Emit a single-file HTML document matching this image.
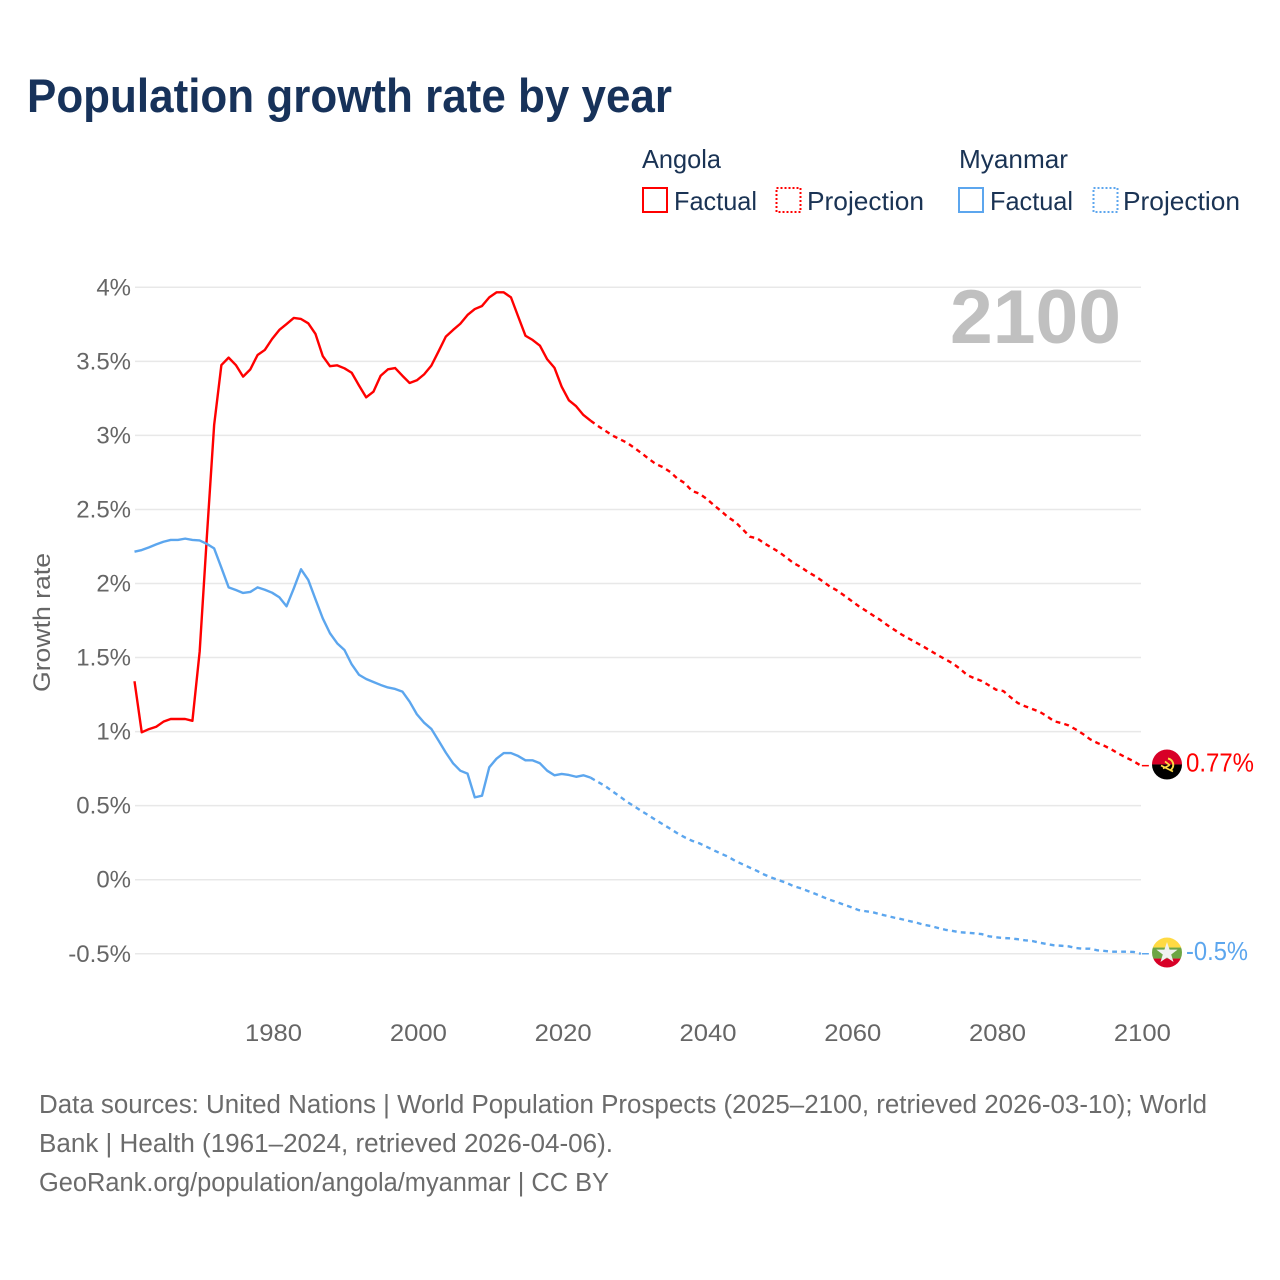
<!DOCTYPE html>
<html lang="en">
<head>
<meta charset="utf-8">
<title>Population growth rate by year</title>
<style>
html,body{margin:0;padding:0;background:#fff;}
svg{display:block;font-family:"Liberation Sans",sans-serif;}
.legend-text{font-size:26px;fill:#1a3354;}
.foot{font-size:25.5px;fill:#6b6b6b;}
.tick{font-size:24px;fill:#666;}
</style>
</head>
<body>
<svg id="chart" width="1280" height="1280" viewBox="0 0 1280 1280" xmlns="http://www.w3.org/2000/svg">
  <rect x="0" y="0" width="1280" height="1280" fill="#fff"/>
  <text x="27" y="112" font-size="47" font-weight="700" fill="#17325a" textLength="645" lengthAdjust="spacingAndGlyphs">Population growth rate by year</text>

  <g>
    <text class="legend-text" x="642" y="168" textLength="79" lengthAdjust="spacingAndGlyphs">Angola</text>
    <text class="legend-text" x="959" y="168" textLength="109" lengthAdjust="spacingAndGlyphs">Myanmar</text>
    <g>
      <rect x="643" y="188" width="24" height="24" fill="none" stroke="#ff0000" stroke-width="2"/>
      <text class="legend-text" x="674" y="210" textLength="83" lengthAdjust="spacingAndGlyphs">Factual</text>
    </g>
    <g>
      <rect x="776.5" y="188" width="24" height="24" fill="none" stroke="#ff0000" stroke-width="2" stroke-dasharray="2,2"/>
      <text class="legend-text" x="807" y="210" textLength="117" lengthAdjust="spacingAndGlyphs">Projection</text>
    </g>
    <g>
      <rect x="959" y="188" width="24" height="24" fill="none" stroke="#5ca6ee" stroke-width="2"/>
      <text class="legend-text" x="990" y="210" textLength="83" lengthAdjust="spacingAndGlyphs">Factual</text>
    </g>
    <g>
      <rect x="1093.5" y="188" width="24" height="24" fill="none" stroke="#5ca6ee" stroke-width="2" stroke-dasharray="2,2"/>
      <text class="legend-text" x="1123" y="210" textLength="117" lengthAdjust="spacingAndGlyphs">Projection</text>
    </g>
  </g>

  <g id="grid"></g>
  <g id="yticks"></g>
  <g id="xticks"></g>
  <text transform="translate(50,692) rotate(-90)" font-size="24" fill="#666" textLength="139" lengthAdjust="spacingAndGlyphs">Growth rate</text>
  <text x="1121" y="343" text-anchor="end" font-size="76" font-weight="700" fill="#c0c0c0" textLength="171" lengthAdjust="spacingAndGlyphs">2100</text>

  <g id="series"></g>

  <defs>
    <clipPath id="flag-clip"><circle cx="0" cy="0" r="15"/></clipPath>
  </defs>
  <g id="flag-angola">
    <g clip-path="url(#flag-clip)">
      <rect x="-15" y="-15" width="30" height="15" fill="#d80027"/>
      <rect x="-15" y="0" width="30" height="15" fill="#000"/>
      <path d="M1 -6 A6.5 6.5 0 0 1 3 6" fill="none" stroke="#ffda44" stroke-width="2"/>
      <path d="M-6 1 L6 7 M-2 -3 L3 1 M-4 4 L2 1" fill="none" stroke="#ffda44" stroke-width="1.7"/>
    </g>
  </g>
  <g id="flag-myanmar">
    <g clip-path="url(#flag-clip)">
      <rect x="-15" y="-15" width="30" height="10" fill="#ffda44"/>
      <rect x="-15" y="-5" width="30" height="11" fill="#6da544"/>
      <rect x="-15" y="6" width="30" height="10" fill="#d80027"/>
      <polygon points="0,-10.5 2.6,-2.9 10.6,-2.9 4.2,1.9 6.5,9.5 0,5 -6.5,9.5 -4.2,1.9 -10.6,-2.9 -2.6,-2.9" fill="#f0f0f0"/>
    </g>
  </g>
  <text id="label-angola" x="1186" font-size="26" fill="#ff0000" textLength="68" lengthAdjust="spacingAndGlyphs"></text>
  <text id="label-myanmar" x="1186" font-size="26" fill="#5ca6ee" textLength="62" lengthAdjust="spacingAndGlyphs"></text>

  <g>
    <text class="foot" x="39" y="1113" textLength="1168" lengthAdjust="spacingAndGlyphs">Data sources: United Nations | World Population Prospects (2025–2100, retrieved 2026-03-10); World</text>
    <text class="foot" x="39" y="1152" textLength="574" lengthAdjust="spacingAndGlyphs">Bank | Health (1961–2024, retrieved 2026-04-06).</text>
    <text class="foot" x="39" y="1191" textLength="570" lengthAdjust="spacingAndGlyphs">GeoRank.org/population/angola/myanmar | CC BY</text>
  </g>
</svg>
<script>
const factualStartYear = 1961;
const projectionStartYear = 2025;
const yTickValues = [-0.5, 0, 0.5, 1, 1.5, 2, 2.5, 3, 3.5, 4];
const yTickLabels = ['-0.5%', '0%', '0.5%', '1%', '1.5%', '2%', '2.5%', '3%', '3.5%', '4%'];
const xTickYears = [1980, 2000, 2020, 2040, 2060, 2080, 2100];

const angolaFactual = [
  1.34, 0.995, 1.017, 1.033, 1.067, 1.085, 1.085, 1.085, 1.073, 1.54,
  2.32, 3.07, 3.475, 3.525, 3.475, 3.397, 3.446, 3.543, 3.577, 3.651,
  3.712, 3.752, 3.793, 3.786, 3.757, 3.685, 3.536, 3.467, 3.473, 3.453,
  3.423, 3.338, 3.257, 3.295, 3.403, 3.446, 3.455, 3.403, 3.354, 3.372,
  3.412, 3.471, 3.568, 3.667, 3.712, 3.754, 3.813, 3.853, 3.874, 3.932,
  3.966, 3.966, 3.932, 3.802, 3.673, 3.644, 3.606, 3.514, 3.457, 3.329,
  3.237, 3.197, 3.138, 3.099
];
const angolaProjection = [
  3.064, 3.032, 3.0, 2.975, 2.951,
  2.917, 2.881, 2.843, 2.807, 2.785, 2.753, 2.708, 2.678, 2.625, 2.607,
  2.573, 2.53, 2.49, 2.447, 2.415, 2.366, 2.316, 2.305, 2.271, 2.242,
  2.213, 2.177, 2.139, 2.112, 2.078, 2.05, 2.017, 1.981, 1.954, 1.92,
  1.884, 1.848, 1.817, 1.785, 1.754, 1.718, 1.686, 1.654, 1.627, 1.6,
  1.573, 1.544, 1.515, 1.488, 1.461, 1.425, 1.382, 1.36, 1.342, 1.313,
  1.283, 1.274, 1.232, 1.193, 1.171, 1.153, 1.134, 1.105, 1.07, 1.058,
  1.042, 1.015, 0.984, 0.948, 0.923, 0.903, 0.878, 0.849, 0.824, 0.8,
  0.77
];
const myanmarFactual = [
  2.215, 2.226, 2.244, 2.264, 2.282, 2.294, 2.294, 2.303, 2.294, 2.291,
  2.267, 2.237, 2.107, 1.974, 1.956, 1.936, 1.943, 1.974, 1.958, 1.938,
  1.907, 1.846, 1.967, 2.096, 2.024, 1.893, 1.765, 1.664, 1.596, 1.551,
  1.454, 1.384, 1.355, 1.335, 1.315, 1.298, 1.288, 1.27, 1.202, 1.117,
  1.06, 1.018, 0.939, 0.858, 0.786, 0.736, 0.716, 0.556, 0.567, 0.759,
  0.817, 0.855, 0.855, 0.835, 0.806, 0.806, 0.786, 0.736, 0.705, 0.714,
  0.707, 0.695, 0.705, 0.689
];
const myanmarProjection = [
  0.66, 0.633, 0.597, 0.563, 0.527,
  0.496, 0.464, 0.435, 0.403, 0.374, 0.344, 0.313, 0.286, 0.263, 0.246,
  0.223, 0.199, 0.176, 0.155, 0.126, 0.104, 0.081, 0.059, 0.034, 0.014,
  -0.004, -0.02, -0.043, -0.058, -0.076, -0.095, -0.115, -0.135, -0.151, -0.169,
  -0.186, -0.205, -0.213, -0.22, -0.234, -0.245, -0.257, -0.267, -0.279, -0.29,
  -0.304, -0.313, -0.326, -0.338, -0.346, -0.355, -0.358, -0.362, -0.367, -0.382,
  -0.389, -0.394, -0.396, -0.402, -0.409, -0.414, -0.425, -0.434, -0.443, -0.446,
  -0.45, -0.461, -0.466, -0.466, -0.477, -0.481, -0.486, -0.486, -0.486, -0.488,
  -0.5
];

const SVG_NS = 'http://www.w3.org/2000/svg';
function xScale(year) { return 134.5 + (year - 1961) * 7.24; }
function yScale(value) { return 879.7 - value * 148.1; }
function make(tag, attrs) {
  const el = document.createElementNS(SVG_NS, tag);
  for (const k in attrs) el.setAttribute(k, attrs[k]);
  return el;
}

const gridGroup = document.getElementById('grid');
const yTickGroup = document.getElementById('yticks');
yTickValues.forEach(function (v, i) {
  const line = make('line', { x1: 135, x2: 1141, y1: yScale(v), y2: yScale(v), stroke: '#e8e8e8', 'stroke-width': 1.5 });
  
  
  gridGroup.appendChild(line);
  const label = make('text', { x: 131, y: yScale(v) + 8, 'text-anchor': 'end', class: 'tick' });
  
  
  label.textContent = yTickLabels[i];
  yTickGroup.appendChild(label);
});

const xTickGroup = document.getElementById('xticks');
xTickYears.forEach(function (yr) {
  const label = make('text', { x: xScale(yr) + 1.5, y: 1041, 'text-anchor': 'middle', class: 'tick', textLength: 57, lengthAdjust: 'spacingAndGlyphs' });
  
  
  label.textContent = String(yr);
  xTickGroup.appendChild(label);
});

function pathFrom(values, startYear) {
  return values.map(function (v, i) {
    return (i ? 'L' : 'M') + xScale(startYear + i).toFixed(2) + ' ' + yScale(v).toFixed(2);
  }).join(' ');
}

const seriesGroup = document.getElementById('series');
function drawSeries(name, factual, projection, color) {
  const solid = make('path', { d: pathFrom(factual, factualStartYear), fill: 'none', stroke: color, 'stroke-width': 2.4, 'stroke-linejoin': 'round' });
  
  
  seriesGroup.appendChild(solid);
  const last = factual[factual.length - 1];
  const dashedValues = [last].concat(projection);
  const dashed = make('path', { d: pathFrom(dashedValues, projectionStartYear - 1), fill: 'none', stroke: color, 'stroke-width': 2.4, 'stroke-dasharray': '4.8,4.2', 'stroke-linejoin': 'round' });
  
  
  seriesGroup.appendChild(dashed);
  const endV = projection[projection.length - 1];
  const connector = make('line', { x1: xScale(2100) + 1, x2: xScale(2100) + 8, y1: yScale(endV), y2: yScale(endV), stroke: color, 'stroke-width': 1.5 });
  
  
  seriesGroup.appendChild(connector);
}
drawSeries('angola', angolaFactual, angolaProjection, '#ff0000');
drawSeries('myanmar', myanmarFactual, myanmarProjection, '#5ca6ee');

function placeEnd(flagId, labelId, value) {
  const cy = yScale(value);
  document.getElementById(flagId).setAttribute('transform', 'translate(1167,' + (cy - 1.2).toFixed(2) + ')');
  const label = document.getElementById(labelId);
  label.setAttribute('y', (cy + 6).toFixed(2));
  label.textContent = value + '%';
}
placeEnd('flag-angola', 'label-angola', angolaProjection[angolaProjection.length - 1]);
placeEnd('flag-myanmar', 'label-myanmar', myanmarProjection[myanmarProjection.length - 1]);
</script>
</body>
</html>
